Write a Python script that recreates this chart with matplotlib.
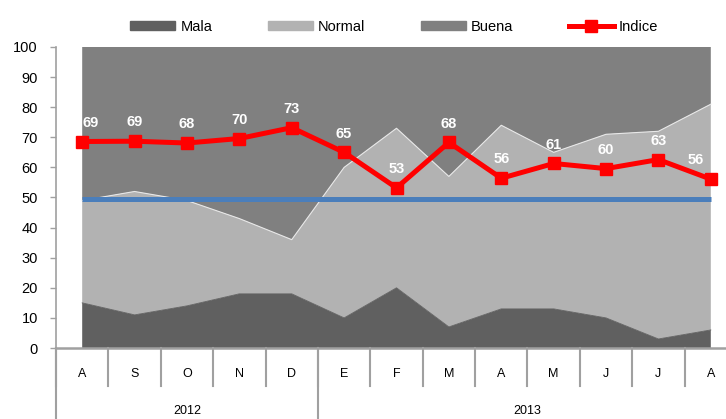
import numpy as np
import matplotlib.pyplot as plt
from matplotlib.lines import Line2D
from matplotlib.patches import Patch
import matplotlib.transforms as mtransforms

plt.rcParams["font.family"] = ["Liberation Sans", "DejaVu Sans"]

months = ["A", "S", "O", "N", "D", "E", "F", "M", "A", "M", "J", "J", "A"]
years = ["2012", "2013"]
year_counts = [5, 8]

mala = [15, 11, 14, 18, 18, 10, 20, 7, 13, 13, 10, 3, 6]
normal = [34, 41, 35, 25, 18, 50, 53, 50, 61, 52, 61, 69, 75]
buena = [51, 48, 51, 57, 64, 40, 27, 43, 26, 35, 29, 28, 19]
indice = [68.6, 68.7, 68.1, 69.6, 73.2, 65.0, 53.2, 68.3, 56.4, 61.3, 59.6, 62.6, 56.1]
referencia = 49.5

c_mala = "#606060"
c_normal = "#b2b2b2"
c_buena = "#808080"
c_red = "#ff0000"
c_blue = "#4a7ebb"
c_axis = "#a0a0a0"

x = np.arange(len(months))

fig = plt.figure(figsize=(7.26, 4.19), dpi=100)
ax = fig.add_axes([56 / 726, 71 / 419, 681 / 726, 301 / 419])

ax.stackplot(x, mala, normal, buena, colors=[c_mala, c_normal, c_buena], linewidth=0)
top_normal = np.array(mala) + np.array(normal)
ax.plot(x, top_normal, color="#e8e8e8", lw=0.8)
ax.plot(x, mala, color=c_mala, lw=0.6)

ax.plot([x[0], x[-1]], [referencia, referencia], color=c_blue, lw=3.6, solid_capstyle="butt")
ax.plot(x, indice, color=c_red, lw=3.6, marker="s", markersize=8.5)

for i, v in enumerate(indice):
    dx = 0
    if i == 0:
        dx = 6
    elif i == len(indice) - 1:
        dx = -11
    ax.annotate(f"{v:.0f}", (x[i], v), xytext=(dx, 13.5), textcoords="offset points",
                ha="center", va="center", color="white", fontsize=10.5, fontweight="bold")

ax.set_xlim(-0.5, len(months) - 0.5)
ax.set_ylim(0, 100)
ax.set_yticks(np.arange(0, 101, 10))
ax.tick_params(axis="y", labelsize=10.5, length=4, width=1, color=c_axis, pad=9)
ax.set_xticks([])
for s in ["top", "right"]:
    ax.spines[s].set_visible(False)
ax.spines["left"].set_color(c_axis)
ax.spines["left"].set_linewidth(1.2)
ax.spines["bottom"].set_color(c_axis)
ax.spines["bottom"].set_linewidth(1.8)

# two-level category axis
trans = mtransforms.blended_transform_factory(ax.transData, ax.transAxes)
month_depth = -38 / 301
year_depth = -75 / 301
for b in np.arange(len(months) + 1) - 0.5:
    ax.plot([b, b], [0, month_depth], transform=trans, color=c_axis, lw=1.5, clip_on=False)
for i, m in enumerate(months):
    ax.text(x[i], -26 / 301, m, transform=trans, ha="center", va="center", fontsize=9)
start = -0.5
for yr, n in zip(years, year_counts):
    ax.plot([start, start], [0, year_depth], transform=trans, color=c_axis, lw=1.5, clip_on=False)
    ax.text(start + n / 2, -63 / 301, yr, transform=trans, ha="center", va="center", fontsize=9)
    start += n
ax.plot([start, start], [0, year_depth], transform=trans, color=c_axis, lw=1.5, clip_on=False)

handles = [
    Patch(color=c_mala, label="Mala"),
    Patch(color=c_normal, label="Normal"),
    Patch(color=c_buena, label="Buena"),
    Line2D([], [], color=c_red, lw=3.6, marker="s", markersize=8.5, label="Indice"),
]
fig.legend(handles=handles, loc="center", bbox_to_anchor=(0.543, 1 - 27 / 419), ncol=4,
           frameon=False, fontsize=10.5, handlelength=3.1, handleheight=0.6,
           handletextpad=0.35, columnspacing=3.8)

fig.savefig("out.png", dpi=100)
